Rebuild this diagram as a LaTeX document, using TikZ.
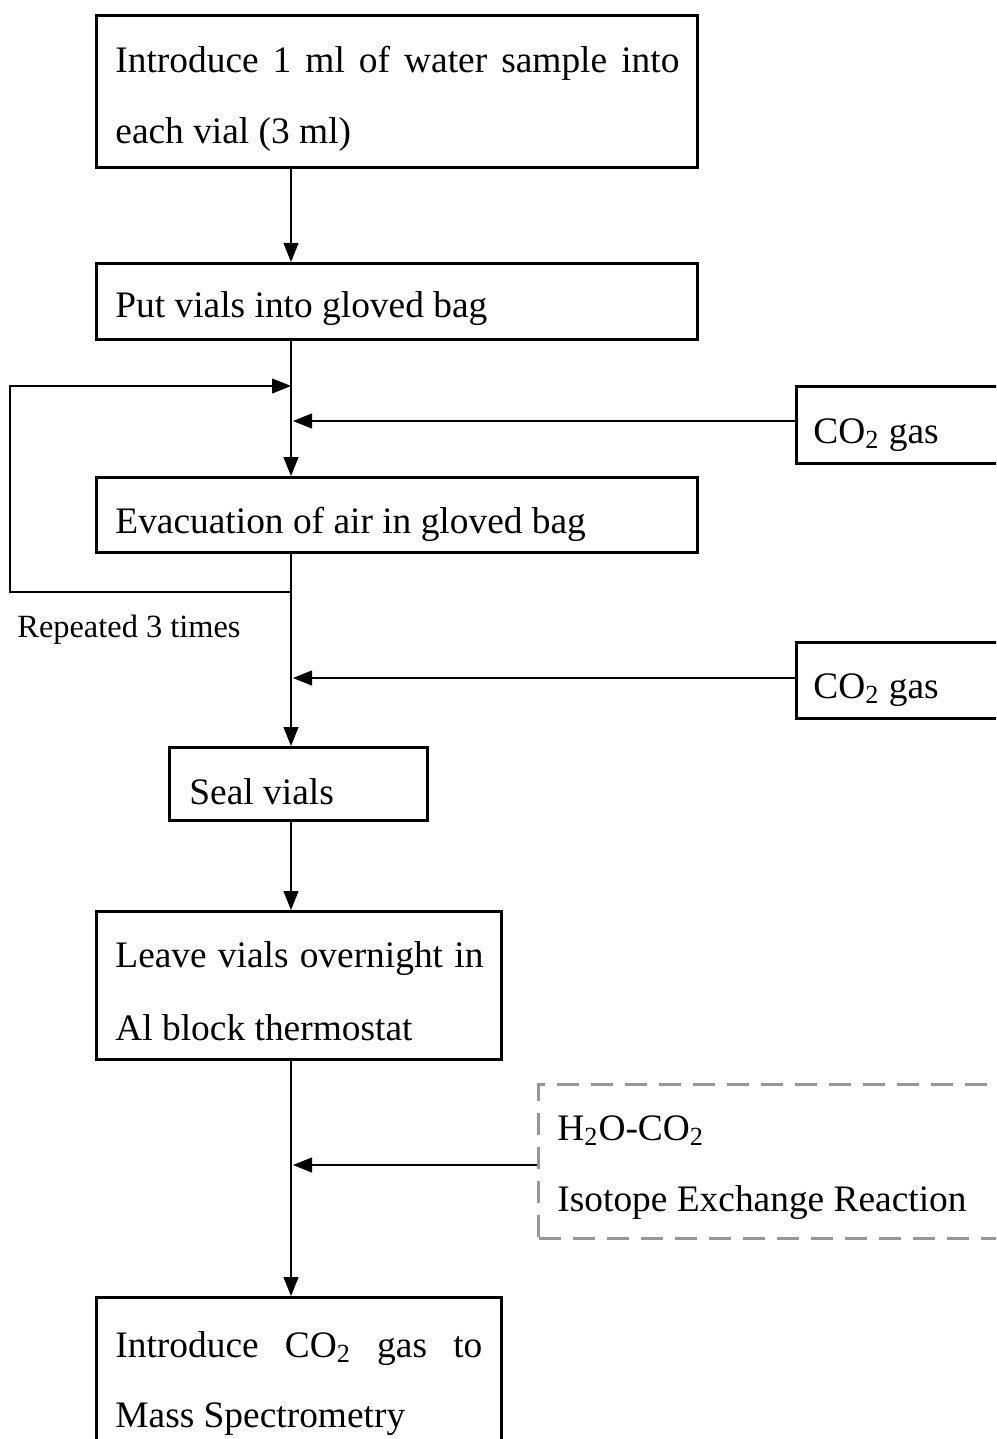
\documentclass[tikz,border=0pt]{standalone}
\usepackage{fontspec}
\setmainfont{Liberation Serif}
\usetikzlibrary{arrows.meta}
\definecolor{dashgray}{RGB}{150,150,150}
\begin{document}
\begin{tikzpicture}[x=0.5pt,y=-0.5pt,
  stepbox/.style={draw, rectangle, line width=1.6pt, anchor=north west, inner sep=0pt},
  notebox/.style={draw=dashgray, rectangle, line width=1.5pt, dash pattern=on 11pt off 6pt, anchor=north west, inner sep=0pt},
  txt/.style={anchor=base west, inner sep=0pt, font=\fontsize{18.7}{22}\selectfont},
  smalltxt/.style={anchor=base west, inner sep=0pt, font=\fontsize{16.2}{20}\selectfont},
  wire/.style={line width=0.6pt},
  flow/.style={wire, -{Triangle[length=9.5pt,width=7.5pt]}}]

% page area
\clip (0,0) rectangle (996,1439);
\fill[white] (0,0) rectangle (996,1439);

% the vertical spine of the flow
\coordinate (spine) at (291,0);

% process boxes
\node[stepbox, minimum width=300.5pt, minimum height=76pt]   (intro)  at (95,14)   {};
\node[stepbox, minimum width=300.5pt, minimum height=38pt]   (bag)    at (95,262)  {};
\node[stepbox, minimum width=300.5pt, minimum height=37.5pt] (evac)   at (95,476)  {};
\node[stepbox, minimum width=129pt,   minimum height=36.5pt] (seal)   at (168,746) {};
\node[stepbox, minimum width=202.5pt, minimum height=74pt]   (leave)  at (95,910)  {};
\node[stepbox, minimum width=202.5pt, minimum height=80pt]   (ms)     at (95,1296) {};

% gas supply boxes
\node[stepbox, minimum width=110pt, minimum height=38.5pt] (gasA) at (795,385) {};
\node[stepbox, minimum width=110pt, minimum height=38pt]   (gasB) at (795,641) {};

% reaction note
\node[notebox, minimum width=235pt, minimum height=77pt] (react) at (537,1083) {};

% box texts
\node[txt] (t1a) at (115,73)  {\makebox[282pt][s]{Introduce 1 ml of water sample into}};
\node[txt] (t1b) at (115,144) {each vial (3 ml)};
\node[txt] (t2)  at (115,317) {Put vials into gloved bag};
\node[txt] (t3)  at (115,533) {Evacuation of air in gloved bag};
\node[txt] (t4)  at (189,804) {Seal vials};
\node[txt] (t5a) at (115,967) {\makebox[184pt][s]{Leave vials overnight in}};
\node[txt] (t5b) at (115,1040) {Al block thermostat};
\node[txt] (t6a) at (115,1357) {\makebox[183.5pt][s]{Introduce CO\textsubscript{2} gas to}};
\node[txt] (t6b) at (115,1427) {Mass Spectrometry};
\node[txt] (gA)  at (813,443) {CO\textsubscript{2} gas};
\node[txt] (gB)  at (813,698) {CO\textsubscript{2} gas};
\node[txt] (rA)  at (557,1140) {H\textsubscript{2}O-CO\textsubscript{2}};
\node[txt] (rB)  at (557,1211) {Isotope Exchange Reaction};
\node[smalltxt] (rep) at (17,637) {Repeated 3 times};

% junction points on the spine
\coordinate (loopIn)  at (291,386);
\coordinate (gasInA)  at (293,421);
\coordinate (loopOut) at (291,592);
\coordinate (gasInB)  at (293,678);
\coordinate (reactIn) at (293,1165);
\coordinate (loopL)   at (10,0);

% main flow
\draw[flow] (intro.south -| spine) -- (bag.north -| spine);
\draw[flow] (bag.south -| spine)   -- (evac.north -| spine);
\draw[flow] (evac.south -| spine)  -- (seal.north -| spine);
\draw[flow] (seal.south -| spine)  -- (leave.north -| spine);
\draw[flow] (leave.south -| spine) -- (ms.north -| spine);

% repeat loop
\draw[flow] (loopOut) -- (loopOut -| loopL) -- (loopIn -| loopL) -- (loopIn);

% side inputs
\draw[flow] (gasA.west |- gasInA) -- (gasInA);
\draw[flow] (gasB.west |- gasInB) -- (gasInB);
\draw[flow] (react.west |- reactIn) -- (reactIn);
\end{tikzpicture}
\end{document}
